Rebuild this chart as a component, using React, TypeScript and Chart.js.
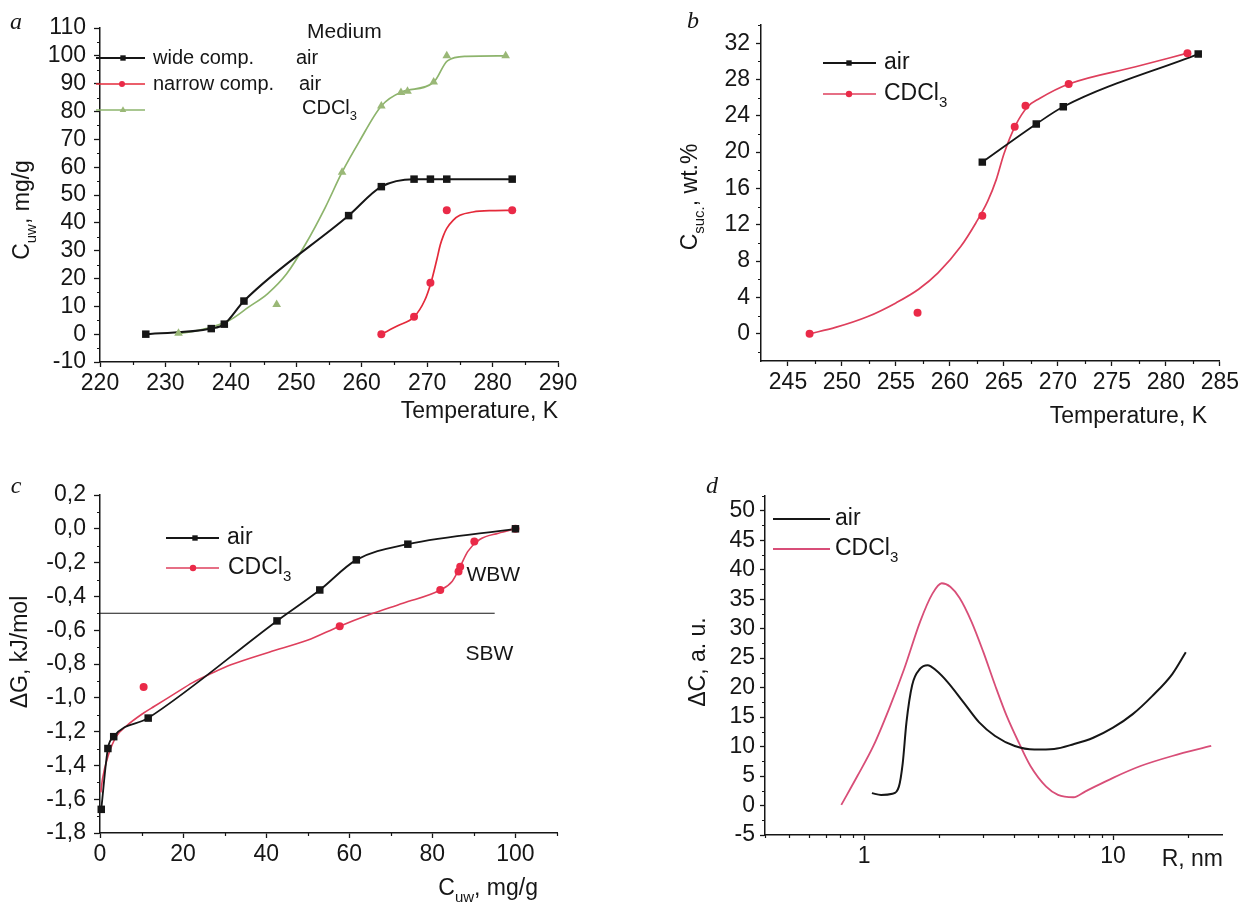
import React, { useEffect, useRef } from 'react';
import { Chart, registerables } from 'chart.js';

Chart.register(...registerables);

const SANS = "'Liberation Sans', Arial, sans-serif";
const SERIF = "'Liberation Serif', 'DejaVu Serif', serif";
const INK = '#161616';
const RED_MARK = '#ea2a48';
const RED_A = '#e42a3a';
const RED_B = '#de3f5c';
const RED_D = '#d84e78';
const GREEN = '#8db46c';
const GREEN_MARK = '#9ab877';

// ---------------- Panel a : C_uw vs Temperature ----------------
const aXTicks = [220, 230, 240, 250, 260, 270, 280, 290];
const aXMinor = [225, 235, 245, 255, 265, 275, 285];
const aYTicks = [-10, 0, 10, 20, 30, 40, 50, 60, 70, 80, 90, 100, 110];
const aYMinor = [-5, 5, 15, 25, 35, 45, 55, 65, 75, 85, 95, 105];
const aWideT = [227, 237, 239, 242, 258, 263, 268, 270.5, 273, 283];
const aWideC = [0, 2, 3.6, 11.9, 42.6, 53, 55.7, 55.7, 55.7, 55.7];
const aNarrowT = [263, 268, 270.5, 273, 283];
const aNarrowC = [0, 6.3, 18.5, 44.5, 44.5];
const aNarrowFitT = [263, 265.5, 268, 269.6, 270.6, 271.5, 272, 272.5, 273, 274, 275, 277, 280, 283];
const aNarrowFitC = [0, 3, 6.2, 12, 18.6, 27, 32, 35.5, 38, 41, 42.7, 43.9, 44.4, 44.5];
const aCdclT = [232, 247, 257, 263, 266, 267, 271, 273, 282];
const aCdclC = [0.3, 10.7, 58.2, 82, 86.8, 87.3, 90.6, 100, 100];
const aCdclFitT = [232.2, 236.2, 239.8, 242.7, 245.6, 248.5, 251.4, 254.4, 257, 259.6, 263, 266.1, 271, 273.1, 276, 282];
const aCdclFitC = [0.2, 2, 5, 9.7, 14.5, 21.6, 32.3, 45.4, 58.2, 69.1, 82, 87, 90.5, 98.2, 99.8, 100];

// ---------------- Panel b : C_suc vs Temperature ----------------
const bXTicks = [245, 250, 255, 260, 265, 270, 275, 280, 285];
const bXMinor = [247.5, 252.5, 257.5, 262.5, 267.5, 272.5, 277.5, 282.5];
const bYTicks = [0, 4, 8, 12, 16, 20, 24, 28, 32];
const bYMinor = [-2, 2, 6, 10, 14, 18, 22, 26, 30, 34];
const bAirT = [263, 268, 270.5, 283];
const bAirC = [18.9, 23.1, 25.0, 30.8];
const bCdclT = [247, 257, 263, 266, 267, 271, 282];
const bCdclC = [0, 2.3, 13, 22.8, 25.1, 27.5, 30.9];
const bCdclFitT = [247, 249.4, 252.4, 255, 257.1, 258.9, 261, 262.4, 263.5, 264.3, 265, 266.1, 267.2, 268.3, 271, 277.2, 282];
const bCdclFitC = [0, 0.7, 1.9, 3.4, 4.9, 6.7, 9.6, 12.2, 14.6, 17.0, 19.8, 23, 25.0, 25.9, 27.5, 29.4, 30.9];

// ---------------- Panel c : dG vs C_uw ----------------
const cXTicks = [0, 20, 40, 60, 80, 100];
const cXMinor = [10, 30, 50, 70, 90, 110];
const cYTicks = [-1.8, -1.6, -1.4, -1.2, -1.0, -0.8, -0.6, -0.4, -0.2, 0, 0.2];
const cYMinor = [-1.7, -1.5, -1.3, -1.1, -0.9, -0.7, -0.5, -0.3, -0.1, 0.1];
const cAirX = [0.3, 1.9, 3.3, 11.6, 42.6, 52.9, 61.7, 74.1, 100];
const cAirG = [-1.66, -1.30, -1.23, -1.12, -0.545, -0.362, -0.184, -0.091, 0];
const cCdclX = [10.5, 57.7, 81.9, 86.3, 86.7, 90.1, 100];
const cCdclG = [-0.936, -0.576, -0.362, -0.253, -0.224, -0.075, 0];
const cCdclFitX = [0.2, 0.6, 2, 3.9, 6.2, 10.5, 13.1, 17.7, 22.3, 26.9, 31.5, 40.7, 49.9, 57.7, 64.6, 72.9, 81.9, 84.8, 86.7, 88.5, 91.3, 95.9, 100];
const cCdclFitG = [-1.56, -1.48, -1.34, -1.23, -1.17, -1.09, -1.05, -0.98, -0.91, -0.855, -0.805, -0.73, -0.66, -0.576, -0.51, -0.44, -0.362, -0.31, -0.224, -0.135, -0.065, -0.026, 0];
const cBoundX = [0, 95];
const cBoundG = [-0.5, -0.5];

// ---------------- Panel d : dC vs R ----------------
const dXTicks = [1, 10];
const dXMinor = [0.4, 0.5, 0.6, 0.7, 0.8, 0.9, 2, 3, 4, 5, 6, 7, 8, 9, 20];
const dYTicks = [-5, 0, 5, 10, 15, 20, 25, 30, 35, 40, 45, 50];
const dYMinor = [-2.5, 2.5, 7.5, 12.5, 17.5, 22.5, 27.5, 32.5, 37.5, 42.5, 47.5, 52.5];
const dAirR = [1.075, 1.17, 1.3, 1.38, 1.43, 1.48, 1.56, 1.68, 1.8, 1.95, 2.17, 2.51, 2.9, 3.36, 4.03, 4.83, 5.8, 6.94, 8.33, 10, 12.0, 14.4, 17.3, 19.6];
const dAirC = [2.1, 1.8, 2.0, 3.2, 7.2, 14.1, 20.4, 23.2, 23.8, 22.9, 20.9, 17.5, 14.1, 11.8, 10.1, 9.5, 9.6, 10.4, 11.5, 13.2, 15.5, 18.6, 22.3, 26.0];
const dCdclR = [0.81, 0.94, 1.09, 1.26, 1.45, 1.68, 1.88, 2.05, 2.22, 2.42, 2.7, 3.01, 3.36, 3.74, 4.18, 4.66, 5.39, 6.01, 6.94, 7.75, 10, 12.9, 17.3, 24.8];
const dCdclC = [0.1, 5.0, 10.1, 16.4, 23.2, 31.2, 35.9, 37.7, 37.1, 35.2, 31.2, 26.1, 20.4, 15.2, 10.7, 6.7, 3.2, 1.8, 1.4, 2.4, 4.7, 6.7, 8.4, 10.1];

// ---------------- helpers ----------------
type Part = { t: string; sub?: boolean };
const CDCL3: Part[] = [{ t: 'CDCl' }, { t: '3', sub: true }];

const pts = (xs: number[], ys: number[]) => xs.map((x, i) => ({ x, y: ys[i] }));

function rich(ctx: CanvasRenderingContext2D, parts: Part[], x: number, y: number, align: string, size: number) {
  const subSize = Math.round(size * 0.64);
  const fontOf = (p: Part) => `${p.sub ? subSize : size}px ${SANS}`;
  let total = 0;
  const ws = parts.map((p) => {
    ctx.font = fontOf(p);
    const w = ctx.measureText(p.t).width;
    total += w;
    return w;
  });
  let cx = align === 'left' ? x : align === 'center' ? x - total / 2 : x - total;
  ctx.fillStyle = INK;
  ctx.textAlign = 'left';
  ctx.textBaseline = 'middle';
  parts.forEach((p, i) => {
    ctx.font = fontOf(p);
    ctx.fillText(p.t, cx, p.sub ? y + size * 0.4 : y);
    cx += ws[i];
  });
}

function vrich(ctx: CanvasRenderingContext2D, parts: Part[], x: number, y: number, size: number) {
  ctx.save();
  ctx.translate(x, y);
  ctx.rotate(-Math.PI / 2);
  rich(ctx, parts, 0, 0, 'center', size);
  ctx.restore();
}

function letter(ctx: CanvasRenderingContext2D, t: string, x: number, y: number) {
  ctx.font = `italic 24px ${SERIF}`;
  ctx.fillStyle = INK;
  ctx.textAlign = 'center';
  ctx.textBaseline = 'middle';
  ctx.fillText(t, x, y);
}

function marker(ctx: CanvasRenderingContext2D, shape: string, x: number, y: number, r: number, color: string) {
  ctx.fillStyle = color;
  ctx.beginPath();
  if (shape === 'rect') ctx.rect(x - r * 0.707, y - r * 0.707, r * 1.414, r * 1.414);
  else if (shape === 'circle') ctx.arc(x, y, r, 0, Math.PI * 2);
  else {
    ctx.moveTo(x, y - r);
    ctx.lineTo(x + r * 0.866, y + r * 0.5);
    ctx.lineTo(x - r * 0.866, y + r * 0.5);
    ctx.closePath();
  }
  ctx.fill();
}

function legendRow(ctx: CanvasRenderingContext2D, x1: number, x2: number, y: number, color: string, lw: number, shape: string | null, mx: number, r: number, mcolor: string) {
  ctx.strokeStyle = color;
  ctx.lineWidth = lw;
  ctx.beginPath();
  ctx.moveTo(x1, y);
  ctx.lineTo(x2, y);
  ctx.stroke();
  if (shape) marker(ctx, shape, mx, y, r, mcolor);
}

const lineDs = (xs: number[], ys: number[], color: string, width: number, mono = true) => ({
  data: pts(xs, ys),
  showLine: true,
  borderColor: color,
  backgroundColor: color,
  borderWidth: width,
  pointRadius: 0,
  pointHoverRadius: 0,
  cubicInterpolationMode: mono ? 'monotone' : 'default',
  tension: 0,
  fill: false,
  clip: 8,
});

const markDs = (xs: number[], ys: number[], color: string, style: string, r: number) => ({
  data: pts(xs, ys),
  showLine: false,
  pointStyle: style,
  pointRadius: r,
  pointHoverRadius: r,
  pointBackgroundColor: color,
  pointBorderColor: color,
  pointBorderWidth: 0,
  clip: 14,
});

function scaleCfg(o: { type?: string; min: number; max: number; ticks: number[]; fmt: (v: number) => string; size: number; tl: number; pad: number; axis: 'x' | 'y' }) {
  return {
    type: o.type || 'linear',
    min: o.min,
    max: o.max,
    afterBuildTicks: (s: any) => {
      s.ticks = o.ticks.map((v) => ({ value: v }));
    },
    afterFit: (s: any) => {
      if (o.axis === 'x') s.height = o.size;
      else s.width = o.size;
    },
    ticks: {
      autoSkip: false,
      maxRotation: 0,
      minRotation: 0,
      color: INK,
      font: { family: SANS, size: 23 },
      padding: o.pad,
      callback: (v: any) => o.fmt(Number(v)),
    },
    grid: { display: true, drawOnChartArea: false, drawTicks: true, tickLength: o.tl, tickColor: INK, tickWidth: 1.3 },
    border: { display: true, color: INK, width: 1.5 },
  };
}

function minorPlugin(xs: number[], ys: number[]) {
  return {
    id: 'minorTicks',
    afterDraw(chart: any) {
      const { ctx } = chart;
      const sx = chart.scales.x;
      const sy = chart.scales.y;
      ctx.save();
      ctx.strokeStyle = INK;
      ctx.lineWidth = 1.2;
      ctx.beginPath();
      xs.forEach((v) => {
        const p = Math.round(sx.getPixelForValue(v)) + 0.5;
        ctx.moveTo(p, sx.top);
        ctx.lineTo(p, sx.top + 3);
      });
      ys.forEach((v) => {
        const p = Math.round(sy.getPixelForValue(v)) + 0.5;
        ctx.moveTo(sy.right, p);
        ctx.lineTo(sy.right - 3, p);
      });
      ctx.stroke();
      ctx.restore();
    },
  };
}

function baseOptions(pad: any, x: any, y: any) {
  return {
    responsive: false,
    maintainAspectRatio: false,
    animation: false,
    devicePixelRatio: 1,
    events: [],
    layout: { padding: pad },
    plugins: { legend: { display: false }, tooltip: { enabled: false }, title: { display: false } },
    scales: { x, y },
  };
}

const intFmt = (v: number) => String(Math.round(v));
const commaFmt = (v: number) => (Math.abs(v) < 1e-9 ? '0,0' : v.toFixed(1).replace('.', ','));
const logFmt = (v: number) => (Math.abs(v - 1) < 1e-9 ? '1' : Math.abs(v - 10) < 1e-9 ? '10' : '');

// ---------------- panel builders ----------------
function buildA(): any {
  return {
    type: 'scatter',
    data: {
      datasets: [
        markDs(aWideT, aWideC, INK, 'rect', 5.3),
        markDs(aNarrowT, aNarrowC, RED_MARK, 'circle', 4),
        markDs(aCdclT, aCdclC, GREEN_MARK, 'triangle', 5),
        lineDs(aWideT, aWideC, INK, 2),
        lineDs(aNarrowFitT, aNarrowFitC, RED_A, 1.7),
        lineDs(aCdclFitT, aCdclFitC, GREEN, 1.7),
      ],
    },
    options: baseOptions(
      { left: 0, top: 28, right: 63, bottom: 0 },
      scaleCfg({ min: 220, max: 290, ticks: aXTicks, fmt: intFmt, size: 89, tl: 5, pad: 3, axis: 'x' }),
      scaleCfg({ min: -10, max: 110, ticks: aYTicks, fmt: intFmt, size: 100, tl: 6, pad: 8, axis: 'y' })
    ),
    plugins: [
      minorPlugin(aXMinor, aYMinor),
      {
        id: 'decoA',
        afterDraw(chart: any) {
          const ctx = chart.ctx as CanvasRenderingContext2D;
          ctx.save();
          letter(ctx, 'a', 16, 23);
          rich(ctx, [{ t: 'Temperature, K' }], 558, 412, 'right', 23);
          vrich(ctx, [{ t: 'C' }, { t: 'uw', sub: true }, { t: ', mg/g' }], 23, 210, 23);
          rich(ctx, [{ t: 'Medium' }], 307, 32, 'left', 21);
          legendRow(ctx, 96, 145, 58, INK, 2, 'rect', 123, 3.8, INK);
          legendRow(ctx, 96, 145, 84, RED_A, 1.7, 'circle', 122, 3, RED_MARK);
          legendRow(ctx, 96, 145, 110, GREEN, 1.7, 'triangle', 123, 3.8, GREEN_MARK);
          rich(ctx, [{ t: 'wide comp.' }], 153, 58, 'left', 20);
          rich(ctx, [{ t: 'air' }], 296, 58, 'left', 20);
          rich(ctx, [{ t: 'narrow comp.' }], 153, 84, 'left', 20);
          rich(ctx, [{ t: 'air' }], 299, 84, 'left', 20);
          rich(ctx, CDCL3, 302, 108, 'left', 20);
          ctx.restore();
        },
      },
    ],
  };
}

function buildB(): any {
  return {
    type: 'scatter',
    data: {
      datasets: [
        markDs(bAirT, bAirC, INK, 'rect', 5.3),
        markDs(bCdclT, bCdclC, RED_MARK, 'circle', 4),
        lineDs(bAirT, bAirC, INK, 1.8),
        lineDs(bCdclFitT, bCdclFitC, RED_B, 1.7),
      ],
    },
    options: baseOptions(
      { left: 0, top: 25, right: 21, bottom: 0 },
      scaleCfg({ min: 242.5, max: 285, ticks: bXTicks, fmt: intFmt, size: 90, tl: 5, pad: 3, axis: 'x' }),
      scaleCfg({ min: -3, max: 34, ticks: bYTicks, fmt: intFmt, size: 140, tl: 5, pad: 6, axis: 'y' })
    ),
    plugins: [
      minorPlugin(bXMinor, bYMinor),
      {
        id: 'decoB',
        afterDraw(chart: any) {
          const ctx = chart.ctx as CanvasRenderingContext2D;
          ctx.save();
          letter(ctx, 'b', 72, 22);
          rich(ctx, [{ t: 'Temperature, K' }], 586, 417, 'right', 23);
          vrich(ctx, [{ t: 'C' }, { t: 'suc.', sub: true }, { t: ', wt.%' }], 70, 197, 23);
          legendRow(ctx, 202, 255, 63, INK, 2, 'rect', 228, 3.8, INK);
          legendRow(ctx, 202, 255, 94, RED_B, 1.7, 'circle', 228, 3.2, RED_MARK);
          rich(ctx, [{ t: 'air' }], 263, 63, 'left', 23);
          rich(ctx, CDCL3, 263, 94, 'left', 23);
          ctx.restore();
        },
      },
    ],
  };
}

function buildC(): any {
  return {
    type: 'scatter',
    data: {
      datasets: [
        markDs(cAirX, cAirG, INK, 'rect', 5.3),
        markDs(cCdclX, cCdclG, RED_MARK, 'circle', 4),
        lineDs(cAirX, cAirG, INK, 1.8),
        lineDs(cCdclFitX, cCdclFitG, RED_B, 1.6),
        lineDs(cBoundX, cBoundG, INK, 1.1, false),
      ],
    },
    options: baseOptions(
      { left: 0, top: 44, right: 64, bottom: 0 },
      scaleCfg({ min: 0, max: 110, ticks: cXTicks, fmt: intFmt, size: 69, tl: 5, pad: 3, axis: 'x' }),
      scaleCfg({ min: -1.8, max: 0.2, ticks: cYTicks, fmt: commaFmt, size: 100, tl: 6, pad: 8, axis: 'y' })
    ),
    plugins: [
      minorPlugin(cXMinor, cYMinor),
      {
        id: 'decoC',
        afterDraw(chart: any) {
          const ctx = chart.ctx as CanvasRenderingContext2D;
          const sx = chart.scales.x;
          const sy = chart.scales.y;
          ctx.save();
          letter(ctx, 'c', 16, 36);
          rich(ctx, [{ t: 'C' }, { t: 'uw', sub: true }, { t: ', mg/g' }], 538, 438, 'right', 23);
          vrich(ctx, [{ t: 'ΔG, kJ/mol' }], 21, 201, 23);
          legendRow(ctx, 166, 219, 87, INK, 2, 'rect', 195, 3.8, INK);
          legendRow(ctx, 166, 219, 117, RED_B, 1.6, 'circle', 193, 3.2, RED_MARK);
          rich(ctx, [{ t: 'air' }], 227, 87, 'left', 23);
          rich(ctx, CDCL3, 228, 117, 'left', 23);
          rich(ctx, [{ t: 'WBW' }], sx.getPixelForValue(88.2), sy.getPixelForValue(-0.277), 'left', 21);
          rich(ctx, [{ t: 'SBW' }], sx.getPixelForValue(88.0), sy.getPixelForValue(-0.744), 'left', 21);
          ctx.restore();
        },
      },
    ],
  };
}

function buildD(): any {
  return {
    type: 'scatter',
    data: {
      datasets: [
        lineDs(dAirR, dAirC, INK, 2),
        lineDs(dCdclR, dCdclC, RED_D, 1.8),
      ],
    },
    options: baseOptions(
      { left: 0, top: 45, right: 20, bottom: 0 },
      scaleCfg({ type: 'logarithmic', min: 0.4, max: 27.4, ticks: dXTicks, fmt: logFmt, size: 67, tl: 5, pad: 3, axis: 'x' }),
      scaleCfg({ min: -5, max: 52.5, ticks: dYTicks, fmt: intFmt, size: 144, tl: 5, pad: 5, axis: 'y' })
    ),
    plugins: [
      minorPlugin(dXMinor, dYMinor),
      {
        id: 'decoD',
        afterDraw(chart: any) {
          const ctx = chart.ctx as CanvasRenderingContext2D;
          ctx.save();
          letter(ctx, 'd', 91, 36);
          rich(ctx, [{ t: 'R, nm' }], 602, 409, 'right', 23);
          vrich(ctx, [{ t: 'ΔC, a. u.' }], 78, 211, 23);
          legendRow(ctx, 152, 209, 68, INK, 2, null, 0, 0, INK);
          legendRow(ctx, 152, 209, 98, RED_D, 1.8, null, 0, 0, RED_D);
          rich(ctx, [{ t: 'air' }], 214, 68, 'left', 23);
          rich(ctx, CDCL3, 214, 98, 'left', 23);
          ctx.restore();
        },
      },
    ],
  };
}

function Panel(props: { left: number; top: number; width: number; height: number; build: () => any }) {
  const ref = useRef<HTMLCanvasElement | null>(null);
  useEffect(() => {
    const canvas = ref.current;
    if (!canvas) return;
    const chart = new Chart(canvas, props.build());
    return () => chart.destroy();
  }, []);
  return (
    <div style={{ position: 'absolute', left: props.left, top: props.top, width: props.width, height: props.height }}>
      <canvas ref={ref} width={props.width} height={props.height} style={{ width: props.width, height: props.height, display: 'block' }} />
    </div>
  );
}

export default function App() {
  return (
    <div style={{ position: 'absolute', left: 0, top: 0, width: 1242, height: 902, background: '#ffffff', overflow: 'hidden' }}>
      <Panel left={0} top={0} width={621} height={451} build={buildA} />
      <Panel left={621} top={0} width={621} height={451} build={buildB} />
      <Panel left={0} top={451} width={621} height={451} build={buildC} />
      <Panel left={621} top={451} width={621} height={451} build={buildD} />
    </div>
  );
}
